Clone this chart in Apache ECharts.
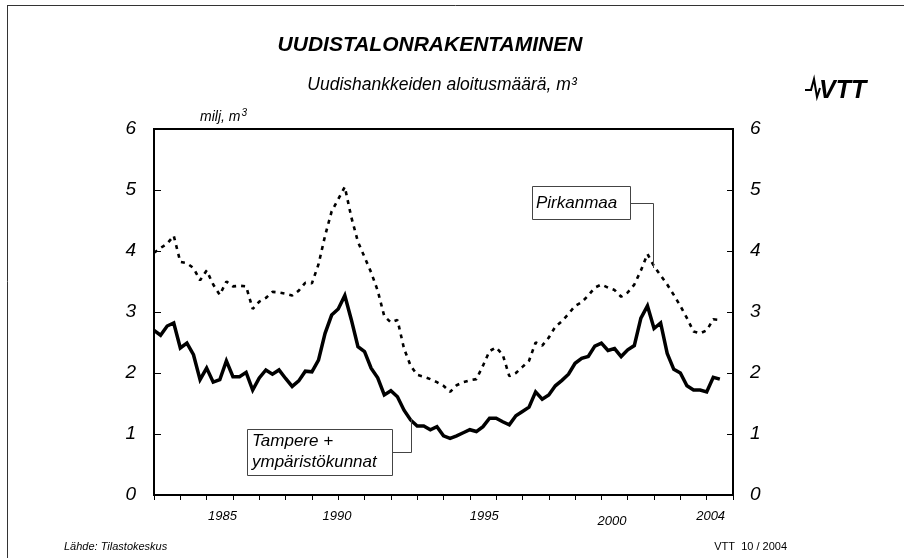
<!DOCTYPE html>
<html>
<head>
<meta charset="utf-8">
<script src="https://cdn.jsdelivr.net/npm/echarts@6/dist/echarts.min.js"></script>
<style>
  html, body { margin: 0; padding: 0; background: #fff; }
  #chart { width: 904px; height: 558px; }
</style>
</head>
<body>
<div id="chart"></div>
<script>
// quarterly values, milj. m3, starting 1982 Q1
const tampere = [
  2.70, 2.62, 2.77, 2.82, 2.41, 2.49, 2.30, 1.89, 2.08, 1.85,
  1.89, 2.20, 1.94, 1.94, 2.01, 1.72, 1.92, 2.05, 1.98, 2.05,
  1.91, 1.78, 1.87, 2.03, 2.02, 2.21, 2.65, 2.95, 3.05, 3.27,
  2.87, 2.43, 2.35, 2.08, 1.92, 1.64, 1.71, 1.61, 1.39, 1.23,
  1.13, 1.13, 1.07, 1.12, 0.97, 0.93, 0.97, 1.02, 1.07, 1.04,
  1.12, 1.26, 1.26, 1.20, 1.15, 1.30, 1.37, 1.44, 1.69, 1.57,
  1.64, 1.79, 1.88, 1.98, 2.16, 2.24, 2.27, 2.44, 2.49, 2.37,
  2.40, 2.27, 2.38, 2.45, 2.90, 3.10, 2.73, 2.82, 2.32, 2.06,
  2.00, 1.79, 1.72, 1.72, 1.69, 1.93, 1.90
];
const pirkanmaa = [
  3.97, 4.05, 4.12, 4.25, 3.82, 3.80, 3.72, 3.52, 3.68, 3.45,
  3.28, 3.50, 3.42, 3.43, 3.42, 3.05, 3.17, 3.23, 3.33, 3.32,
  3.30, 3.27, 3.35, 3.48, 3.47, 3.78, 4.25, 4.65, 4.85, 5.05,
  4.55, 4.15, 3.90, 3.65, 3.35, 2.93, 2.83, 2.87, 2.40, 2.12,
  1.97, 1.94, 1.90, 1.85, 1.79, 1.69, 1.80, 1.85, 1.88, 1.90,
  2.12, 2.36, 2.42, 2.30, 1.95, 2.00, 2.10, 2.20, 2.50, 2.45,
  2.58, 2.76, 2.85, 2.97, 3.10, 3.16, 3.27, 3.40, 3.45, 3.40,
  3.36, 3.25, 3.32, 3.45, 3.68, 3.95, 3.75, 3.60, 3.45, 3.28,
  3.10, 2.90, 2.68, 2.65, 2.70, 2.88, 2.87
];
const startYear = 1982;
const endYear = 2004;
const quarters = tampere.map((_, i) => startYear + i / 4);

// year labels sit where the original put them, not on the ticks
const yearLabels = ['1985', '1990', '1995', '2000', '2004'];
const yearLabelAt = [1984.6, 1988.95, 1994.55, 1999.4, 2003.15];

const chart = echarts.init(document.getElementById('chart'));
const font = 'Liberation Sans, Arial, sans-serif';

const option = {
    animation: false,
    backgroundColor: '#fff',
    grid: {
        left: 154,
        right: 171,
        top: 129,
        bottom: 63,
        show: true,
        borderColor: '#000',
        borderWidth: 2
    },
    xAxis: {
        type: 'value',
        min: startYear,
        max: endYear,
        interval: 1,
        axisLine: { show: true, lineStyle: { color: '#000', width: 2 } },
        axisTick: { show: true, length: 5, lineStyle: { color: '#000', width: 1 } },
        splitLine: { show: false },
        axisLabel: {
            customValues: yearLabelAt,
            margin: 15,
            fontFamily: font,
            fontStyle: 'italic',
            fontSize: 13,
            color: '#000',
            formatter: (v) => {
                const k = yearLabelAt.findIndex(p => Math.abs(p - v) < 0.01);
                const t = yearLabels[k];
                return t === '2000' ? '{low|' + t + '}' : t;
            },
            rich: {
                low: { padding: [5, 0, 0, 0], fontSize: 13, fontStyle: 'italic', fontFamily: font, color: '#000' }
            }
        }
    },
    yAxis: [
        {
            type: 'value',
            min: 0,
            max: 6,
            interval: 1,
            position: 'left',
            axisLine: { show: true, lineStyle: { color: '#000', width: 2 } },
            axisTick: { show: true, inside: true, length: 7, lineStyle: { color: '#000' } },
            splitLine: { show: false },
            axisLabel: { margin: 18, fontFamily: font, fontStyle: 'italic', fontSize: 19, color: '#000' }
        },
        {
            type: 'value',
            min: 0,
            max: 6,
            interval: 1,
            position: 'right',
            axisLine: { show: true, lineStyle: { color: '#000', width: 2 } },
            axisTick: { show: true, inside: true, length: 6, lineStyle: { color: '#000' } },
            splitLine: { show: false },
            axisLabel: { margin: 17, fontFamily: font, fontStyle: 'italic', fontSize: 19, color: '#000' }
        }
    ],
    series: [
        {
            name: 'Pirkanmaa',
            type: 'line',
            data: quarters.map((x, i) => [x, pirkanmaa[i]]),
            showSymbol: false,
            lineStyle: { color: '#000', width: 2.6, type: [4, 5] }
        },
        {
            name: 'Tampere + ympäristökunnat',
            type: 'line',
            data: quarters.map((x, i) => [x, tampere[i]]),
            showSymbol: false,
            lineStyle: { color: '#000', width: 3.5, join: 'miter' }
        }
    ],
    graphic: [
        // outer frame (top and left edge)
        { type: 'line', shape: { x1: 7, y1: 5.5, x2: 904, y2: 5.5 }, style: { stroke: '#333', lineWidth: 1 } },
        { type: 'line', shape: { x1: 7.5, y1: 5, x2: 7.5, y2: 558 }, style: { stroke: '#333', lineWidth: 1 } },
        {
            type: 'text', x: 430, y: 45, z: 10,
            style: { text: 'UUDISTALONRAKENTAMINEN', font: 'italic bold 21px ' + font, fill: '#000', align: 'center', verticalAlign: 'middle' }
        },
        {
            type: 'text', x: 442, y: 85, z: 10,
            style: { text: 'Uudishankkeiden aloitusmäärä, m³', font: 'italic 17.5px ' + font, fill: '#000', align: 'center', verticalAlign: 'middle' }
        },
        {
            type: 'text', x: 200, y: 117, z: 10,
            style: {
                text: '{a|milj, m}{s|3}', verticalAlign: 'middle',
                rich: {
                    a: { font: 'italic 14px ' + font, fill: '#000' },
                    s: { font: 'italic 10px ' + font, fill: '#000', padding: [0, 0, 8, 1] }
                }
            }
        },
        // VTT logo
        {
            type: 'polyline', z: 10,
            shape: { points: [[805, 90], [811, 90], [814, 79], [817, 97], [820, 88]] },
            style: { stroke: '#000', lineWidth: 2, fill: null }
        },
        {
            type: 'text', x: 819, y: 91, z: 10,
            style: { text: 'VTT', font: 'italic 900 25px ' + font, fill: '#000', verticalAlign: 'middle' }
        },
        // series labels
        {
            type: 'rect', z: 10,
            shape: { x: 532.5, y: 186.5, width: 98, height: 33 },
            style: { fill: '#fff', stroke: '#444', lineWidth: 1 }
        },
        {
            type: 'text', x: 536, y: 203, z: 11,
            style: { text: 'Pirkanmaa', font: 'italic 17px ' + font, fill: '#000', verticalAlign: 'middle' }
        },
        {
            type: 'polyline', z: 10,
            shape: { points: [[630, 203.5], [653.5, 203.5], [653.5, 268]] },
            style: { stroke: '#444', lineWidth: 1, fill: null }
        },
        {
            type: 'rect', z: 10,
            shape: { x: 247.5, y: 429.5, width: 145, height: 46 },
            style: { fill: '#fff', stroke: '#444', lineWidth: 1 }
        },
        {
            type: 'text', x: 252, y: 452, z: 11,
            style: { text: 'Tampere +\nympäristökunnat', font: 'italic 17px ' + font, lineHeight: 21, fill: '#000', verticalAlign: 'middle' }
        },
        {
            type: 'polyline', z: 10,
            shape: { points: [[392.5, 452.5], [411.5, 452.5], [411.5, 418]] },
            style: { stroke: '#444', lineWidth: 1, fill: null }
        },
        // footer
        {
            type: 'text', x: 64, y: 547, z: 10,
            style: { text: 'Lähde: Tilastokeskus', font: 'italic 11px ' + font, fill: '#000', verticalAlign: 'middle' }
        },
        {
            type: 'text', x: 787, y: 547, z: 10,
            style: { text: 'VTT  10 / 2004', font: '11px ' + font, fill: '#000', align: 'right', verticalAlign: 'middle' }
        }
    ]
};

chart.setOption(option);
</script>
</body>
</html>
